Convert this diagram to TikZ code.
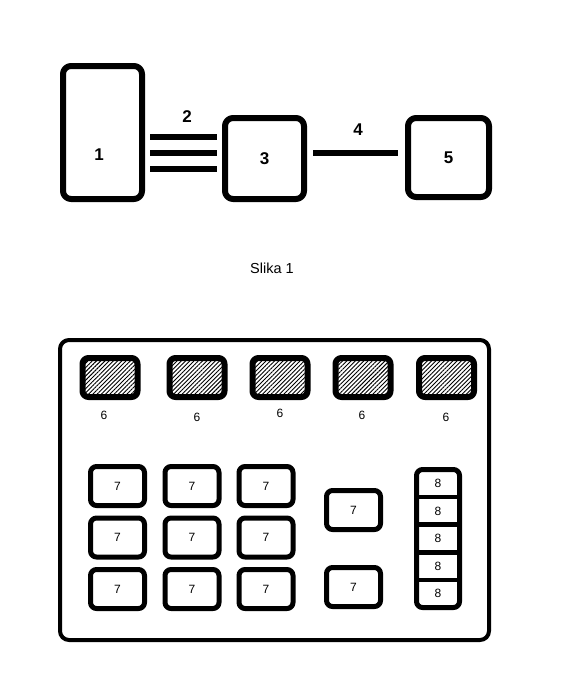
\documentclass[tikz,border=0pt]{standalone}
\usepackage{fontspec}
\setmainfont{Liberation Sans}
\usetikzlibrary{positioning,patterns.meta}
\begin{document}
\begin{tikzpicture}[x=1pt, y=-1pt, line join=round,
		box/.style={draw, line width=6pt, rounded corners=8pt, inner sep=0pt, font=\fontsize{17}{20}\selectfont\bfseries},
		toplbl/.style={inner sep=0pt, font=\fontsize{17}{20}\selectfont\bfseries},
		hatchbox/.style={draw, line width=6pt, rounded corners=6pt, minimum width=55pt, minimum height=39pt,
			pattern={Lines[angle=45,distance=3pt,line width=0.9pt]}},
		lblsix/.style={inner sep=0pt, font=\fontsize{12}{14}\selectfont},
		cell/.style={draw, line width=5pt, rounded corners=6pt, minimum width=54pt, minimum height=39pt, inner sep=0pt, font=\fontsize{12}{14}\selectfont},
		slot/.style={minimum width=43pt, minimum height=27.6pt, inner sep=0pt, outer sep=0pt, font=\fontsize{12}{14}\selectfont}]
		\useasboundingbox (0,0) rectangle (562,678);
		% Slika 1
		\node[box, minimum width=79pt, minimum height=133pt] (b1) at (102.5,132.5) {};
		\node[toplbl] (l1) at (99,155) {1};
		\node[box, minimum width=79pt, minimum height=81pt] (b3) at (264.5,158.5) {3};
		\node[box, minimum width=81pt, minimum height=79pt] (b5) at (448.5,157.5) {5};
		\node[toplbl] (l2) at (187,117) {2};
		\node[toplbl] (l4) at (358,130) {4};
		\foreach \y in {137,153,169}
		\draw[line width=6.5pt] ([xshift=5pt]b1.east |- 0,\y) -- ([xshift=-5pt]b3.west |- 0,\y);
		\draw[line width=6pt] ([xshift=6pt]b3.east |- 0,153) -- ([xshift=-7pt]b5.west |- 0,153);
		\node[font=\fontsize{14.5}{17}\selectfont] (cap) at (272,268) {Slika 1};
		% ploca
		\node[draw, line width=4pt, rounded corners=9pt, minimum width=429pt, minimum height=300pt] (pnl) at (274.5,490) {};
		\foreach \x/\lx/\ly [count=\i] in {110/104/415,197/197/417,280/280/413,363/362/415,446.5/446/417}{
			\node[hatchbox] (h\i) at (\x,377.5) {};
			\node[lblsix] (n\i) at (\lx,\ly) {6};
		}
		\foreach \x [count=\i] in {117.5,192,266}
		\foreach \y [count=\j] in {486,537.5,589}
		\node[cell] (c\i\j) at (\x,\y) {7};
		\node[cell] (c41) at (353.5,510) {7};
		\node[cell] (c43) at (353.5,587) {7};
		\foreach \i in {1,...,5}
		\node[slot] (s\i) at (438,{469.5+27.6*(\i-0.5)}) {8};
		\draw[line width=5pt, rounded corners=6pt] (s1.north west) rectangle (s5.south east);
		\foreach \i in {1,...,4}
		\draw[line width=4.5pt] (s\i.south west) -- (s\i.south east);
\end{tikzpicture}
\end{document}
